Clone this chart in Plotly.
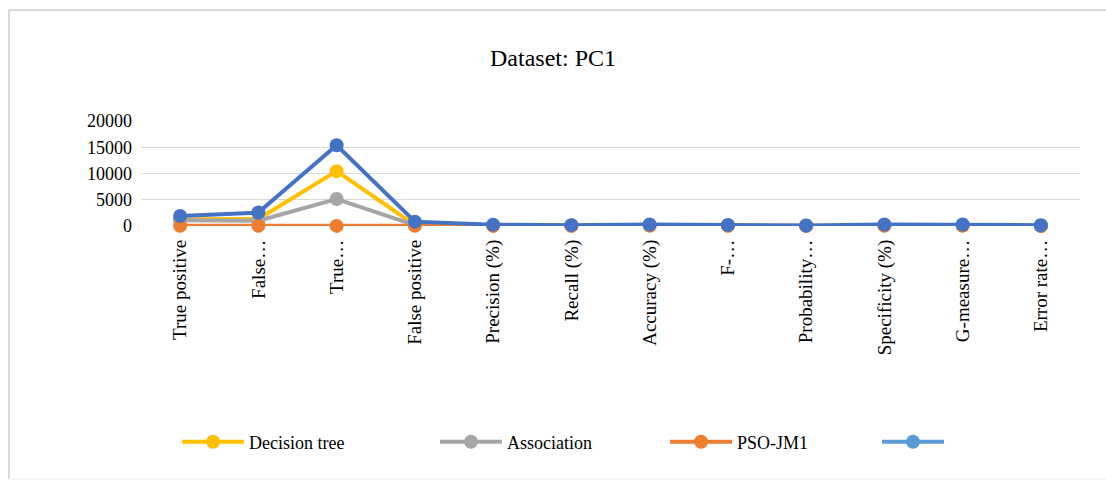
import plotly.graph_objects as go

categories = ["True positive", "False…", "True…", "False positive", "Precision (%)",
              "Recall (%)", "Accuracy (%)", "F-…", "Probability…", "Specificity (%)",
              "G-measure…", "Error rate…"]

decision_tree = [1300, 1350, 10450, 200, 90, 80, 95, 85, 40, 95, 90, 10]
association = [1100, 1000, 5130, 180, 70, 60, 75, 65, 30, 80, 75, 12]
pso_jm1 = [30, 40, 20, 30, 60, 50, 80, 55, 20, 85, 80, 15]
fourth = [1920, 2560, 15380, 830, 260, 160, 300, 200, 100, 300, 300, 150]

series_names = ["Decision tree", "Association", "PSO-JM1", ""]
series_colors = ["#FFC000", "#A5A5A5", "#ED7D31", "#4472C4"]
legend_colors = ["#FFC000", "#A5A5A5", "#ED7D31", "#5B9BD5"]
legend_x_px = [182, 440, 670, 882]
y_ticks = [0, 5000, 10000, 15000, 20000]

L, R, T, B = 141, 26, 121, 256
W, H = 1106, 482
pw, ph = W - L - R, H - T - B

fig = go.Figure()
legend_ids = ["legend", "legend2", "legend3", "legend4"]
for name, vals, col, lcol, lid in zip(series_names, [decision_tree, association, pso_jm1, fourth],
                                      series_colors, legend_colors, legend_ids):
    fig.add_trace(go.Scatter(x=categories, y=vals, mode="lines+markers", name=name,
                             line=dict(color=col, width=4),
                             marker=dict(color=col, size=14),
                             cliponaxis=False, showlegend=False))
    fig.add_trace(go.Scatter(x=[None], y=[None], mode="lines+markers",
                             name=name if name else "\u00a0",
                             line=dict(color=lcol, width=4),
                             marker=dict(color=lcol, size=14), showlegend=True, legend=lid))

def px_x(p):
    return (p - L) / pw

def px_y(p):
    return (H - B - p) / ph

border = "#D9D9D9"
fig.add_shape(type="line", xref="paper", yref="paper", x0=px_x(9), x1=px_x(1110), y0=px_y(10), y1=px_y(10),
              line=dict(color=border, width=2))
fig.add_shape(type="line", xref="paper", yref="paper", x0=px_x(9), x1=px_x(9), y0=px_y(10), y1=px_y(479),
              line=dict(color=border, width=2))
fig.add_shape(type="line", xref="paper", yref="paper", x0=px_x(9), x1=px_x(1110), y0=px_y(479), y1=px_y(479),
              line=dict(color="#EEEEEE", width=1))

legend_common = dict(orientation="h", xref="container", yref="container", yanchor="middle",
                     xanchor="left", font=dict(size=18, family="Liberation Serif"),
                     itemwidth=62, bgcolor="rgba(0,0,0,0)", y=1 - 442 / H)
legends = {}
for lid, lx in zip(legend_ids, legend_x_px):
    legends[lid] = dict(legend_common, x=(lx - 5) / W)

fig.update_layout(
    width=W, height=H,
    margin=dict(l=L, r=R, t=T, b=B, autoexpand=False),
    paper_bgcolor="white", plot_bgcolor="white",
    font=dict(family="Liberation Serif", size=18, color="#000000"),
    title=dict(text="Dataset: PC1", x=(488 + 618) / 2 / W, xref="container", y=1 - 58 / H, yref="container",
               xanchor="center", yanchor="middle", font=dict(size=24, family="Liberation Serif")),
    xaxis=dict(type="category", range=[-0.5, len(categories) - 0.5], tickangle=-90,
               showgrid=False, showline=False, ticks="",
               ticklabelstandoff=9, tickfont=dict(size=19)),
    yaxis=dict(range=[0, 20000], tickvals=y_ticks, ticktext=[str(v) for v in y_ticks],
               showgrid=True, gridcolor="#D9D9D9", gridwidth=1, zeroline=False, showline=False,
               ticks="", tickfont=dict(size=18), ticklabelstandoff=8),
    **legends,
)

fig.write_html("out.html", config={"displayModeBar": False},
               post_script="document.body.style.margin='0';")
